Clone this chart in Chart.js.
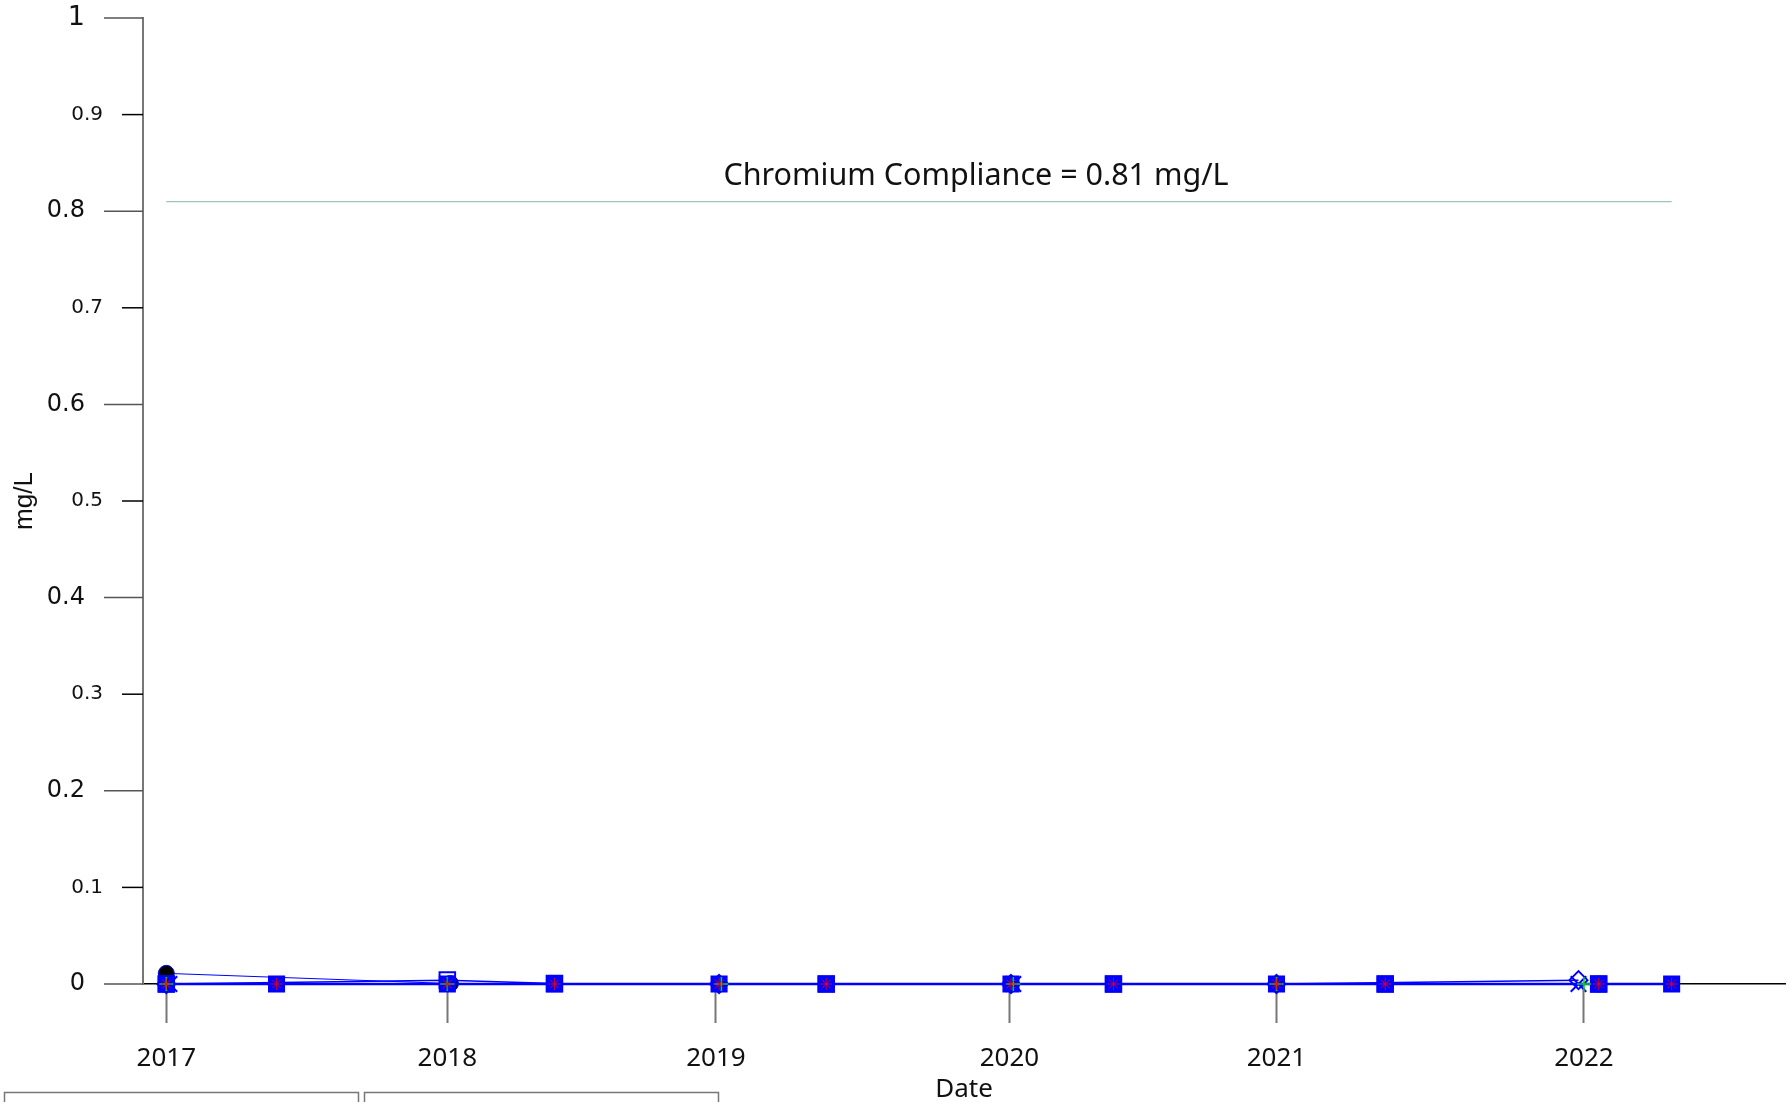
<!DOCTYPE html>
<html>
<head>
<meta charset="utf-8">
<title>Chromium</title>
<script src="https://cdn.jsdelivr.net/npm/chart.js@4.4.0/dist/chart.umd.min.js"></script>
<style>
    html, body { margin: 0; padding: 0; background: #fff; }
    canvas { display: block; }
</style>
</head>
<body>
<canvas id="chromiumChart" width="1790" height="1102"></canvas>
<script>
// sample dates and values (mg/L)
const squareDates = ['2017-01-01', '2017-05-23', '2017-12-29', '2018-05-16', '2018-12-14', '2019-05-01',
    '2019-12-25', '2020-05-05', '2020-12-01', '2021-04-20', '2022-01-20', '2022-04-24'];
const squareValues = [0, 0, 0, 0, 0, 0, 0, 0, 0, 0, 0, 0];

const circleDates = ['2017-01-01', '2018-01-02', '2018-12-14', '2019-12-25', '2020-12-01', '2022-01-20'];
const circleValues = [0.011, 0.0005, 0, 0, 0, 0];

const outlineDates = ['2017-01-01', '2017-12-29', '2018-05-16', '2019-05-01', '2020-05-05', '2021-04-20', '2022-01-20'];
const outlineValues = [0, 0.004, 0.0005, 0, 0, 0, 0];

const diamondDates = ['2017-01-01', '2018-12-14', '2019-12-25', '2020-12-01', '2021-12-25'];
const diamondValues = [0, 0, 0, 0, 0.004];

const xMarkDates = ['2017-01-05', '2019-12-28', '2021-12-25'];
const xMarkValues = [0, 0, 0];

const greenDates = ['2017-01-01', '2017-12-29', '2018-12-17', '2019-12-28', '2020-12-01', '2022-01-01'];
const greenValues = [0, 0, 0, 0, 0, 0];

const compliance = 0.81;
const complianceDates = ['2017-01-01', '2022-04-24'];

const xTickDates = ['2017-01-01', '2017-12-29', '2018-12-10', '2019-12-23', '2020-12-01', '2022-01-01'];
const xTickLabels = ['2017', '2018', '2019', '2020', '2021', '2022'];
const yTickLabels = ['0', '0.1', '0.2', '0.3', '0.4', '0.5', '0.6', '0.7', '0.8', '0.9', '1'];

const xMinDate = '2016-12-02';
const xMaxDate = '2022-09-17';

function toTime(d) {
    const p = d.split('-');
    return Date.UTC(+p[0], +p[1] - 1, +p[2]);
}

function pts(dates, values) {
    return dates.map((d, i) => ({ x: toTime(d), y: values[i] }));
}

const blue = '#0000ff';
const red = 'rgba(255, 0, 0, 0.75)';
const green = '#00dd00';

// y axis ticks (long majors, short minors) + extra text
const axisDecor = {
    id: 'axisDecor',
    afterDraw(chart) {
        const ctx = chart.ctx;
        const ys = chart.scales.y;
        const axisX = ys.right;
        ctx.save();
        ys.ticks.forEach(t => {
            const step = Math.round(t.value * 10);
            const major = step % 2 === 0;
            const py = ys.getPixelForValue(t.value);
            const len = major ? 39 : 21;
            ctx.strokeStyle = major ? '#555' : '#000';
            ctx.lineWidth = 1.5;
            ctx.beginPath();
            ctx.moveTo(axisX - len, py);
            ctx.lineTo(axisX, py);
            ctx.stroke();
            ctx.fillStyle = '#111';
            ctx.font = (major ? (step === 10 ? 27 : 24) : 20) + 'px "DejaVu Sans"';
            ctx.textAlign = 'right';
            ctx.textBaseline = 'middle';
            ctx.fillText(yTickLabels[step], axisX - len - 19, py);
        });

        // compliance label
        const area = chart.chartArea;
        ctx.fillStyle = '#111';
        ctx.font = '30.5px "Noto Sans"';
        ctx.textAlign = 'center';
        ctx.textBaseline = 'middle';
        ctx.fillText('Chromium Compliance = ' + compliance + ' mg/L',
            (area.left + area.right) / 2 + 12, ys.getPixelForValue(compliance) - 25);

        // cut-off legend boxes at the bottom
        ctx.strokeStyle = '#777';
        ctx.lineWidth = 1.5;
        ctx.strokeRect(4.5, 1092.5, 354, 30);
        ctx.strokeRect(364.5, 1092.5, 354, 30);
        ctx.restore();
    }
};

new Chart('chromiumChart', {
    type: 'line',
    plugins: [axisDecor],
    data: {
        datasets: [{
            label: 'red',
            data: pts(squareDates, squareValues),
            showLine: false,
            pointStyle: 'star',
            pointRadius: 6,
            pointBorderColor: red,
            pointBorderWidth: 1,
            clip: false
        }, {
            label: 'green',
            data: pts(greenDates, greenValues),
            showLine: false,
            pointStyle: 'cross',
            pointRadius: 7,
            pointBorderColor: green,
            pointBorderWidth: 1.5,
            clip: false
        }, {
            label: 'squares',
            data: pts(squareDates, squareValues),
            borderColor: blue,
            borderWidth: 2.5,
            pointStyle: 'rect',
            pointRadius: 11,
            pointBackgroundColor: blue,
            pointBorderColor: blue,
            pointBorderWidth: 1.5,
            clip: false
        }, {
            label: 'outline',
            data: pts(outlineDates, outlineValues),
            borderColor: blue,
            borderWidth: 1.5,
            pointStyle: 'rect',
            pointRadius: 11,
            pointBackgroundColor: 'rgba(0,0,0,0)',
            pointBorderColor: blue,
            pointBorderWidth: 2,
            clip: false
        }, {
            label: 'circles',
            data: pts(circleDates, circleValues),
            borderColor: blue,
            borderWidth: 1,
            pointStyle: 'circle',
            pointRadius: 8,
            pointBackgroundColor: '#000',
            pointBorderColor: blue,
            pointBorderWidth: 1,
            clip: false
        }, {
            label: 'diamond',
            data: pts(diamondDates, diamondValues),
            borderColor: blue,
            borderWidth: 1.5,
            pointStyle: 'rectRot',
            pointRadius: 9,
            pointBackgroundColor: 'rgba(0,0,0,0)',
            pointBorderColor: blue,
            pointBorderWidth: 2,
            clip: false
        }, {
            label: 'x',
            data: pts(xMarkDates, xMarkValues),
            showLine: false,
            pointStyle: 'crossRot',
            pointRadius: 11,
            pointBorderColor: blue,
            pointBorderWidth: 2,
            clip: false
        }, {
            label: 'compliance',
            data: pts(complianceDates, [compliance, compliance]),
            borderColor: '#9cc4b8',
            borderWidth: 1.2,
            pointRadius: 0,
            clip: false
        }]
    },
    options: {
        responsive: false,
        animation: false,
        layout: { autoPadding: false, padding: { top: 18, right: 5, left: 0, bottom: 0 } },
        plugins: {
            legend: { display: false },
            tooltip: { enabled: false }
        },
        scales: {
            x: {
                type: 'linear',
                min: toTime(xMinDate),
                max: toTime(xMaxDate),
                afterBuildTicks: s => { s.ticks = xTickDates.map(d => ({ value: toTime(d) })); },
                afterFit: s => {
                    s.height = 118;
                    s.paddingLeft = 0;
                    s.paddingRight = 0;
                },
                ticks: {
                    autoSkip: false,
                    maxRotation: 0,
                    padding: 20,
                    color: '#111',
                    font: { family: 'Noto Sans', size: 26 },
                    callback: (v, i) => xTickLabels[i]
                },
                grid: { drawOnChartArea: false, drawTicks: true, tickLength: 39, tickColor: '#777', tickWidth: 2 },
                border: { display: true, color: '#000', width: 1.5 },
                title: {
                    display: true,
                    text: 'Date',
                    color: '#111',
                    font: { family: 'Noto Sans', size: 26 },
                    padding: { top: 0, bottom: -3 }
                }
            },
            y: {
                min: 0,
                max: 1,
                ticks: { stepSize: 0.1, display: false },
                grid: { display: false },
                border: { display: true, color: '#777', width: 2 },
                afterFit: s => {
                    s.width = 143;
                    s.paddingTop = 0;
                    s.paddingBottom = 0;
                },
                title: {
                    display: true,
                    text: 'mg/L',
                    color: '#111',
                    font: { family: 'Liberation Sans', size: 26 },
                    padding: { top: 9, bottom: 0 }
                }
            }
        }
    }
});
</script>
</body>
</html>
